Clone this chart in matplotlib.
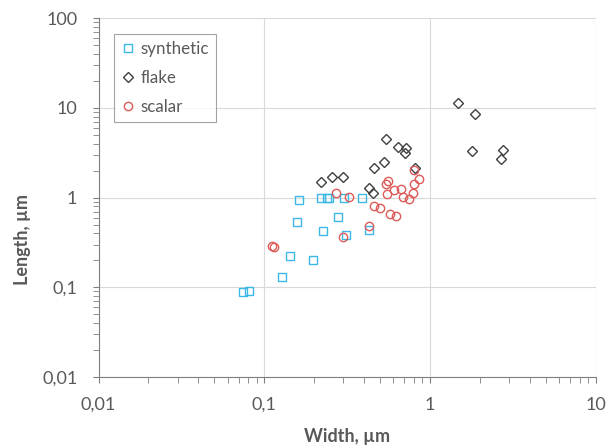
import numpy as np
import matplotlib
matplotlib.use('Agg')
import matplotlib.pyplot as plt
from matplotlib.ticker import FuncFormatter, LogLocator, NullFormatter

plt.rcParams['font.family'] = ['Lato', 'DejaVu Sans']

# data (width, length in um)
synthetic_w = [0.074, 0.081, 0.128, 0.143, 0.158, 0.163, 0.198, 0.22, 0.227, 0.24,
               0.247, 0.277, 0.304, 0.31, 0.39, 0.43]
synthetic_l = [0.089, 0.092, 0.13, 0.224, 0.53, 0.94, 0.20, 1.0, 0.43, 0.98,
               0.98, 0.61, 0.98, 0.38, 0.98, 0.44]

flake_w = [0.22, 0.256, 0.30, 0.43, 0.455, 0.46, 0.53, 0.54, 0.64, 0.72, 0.71,
           0.81, 1.47, 1.87, 1.79, 2.76, 2.67]
flake_l = [1.5, 1.69, 1.68, 1.29, 1.14, 2.16, 2.48, 4.48, 3.7, 3.55, 3.13,
           2.16, 11.3, 8.5, 3.34, 3.4, 2.7]

scalar_w = [0.111, 0.115, 0.27, 0.324, 0.297, 0.43, 0.46, 0.50, 0.55, 0.54, 0.555,
            0.57, 0.61, 0.62, 0.67, 0.69, 0.75, 0.79, 0.80, 0.80, 0.855]
scalar_l = [0.29, 0.28, 1.14, 1.01, 0.365, 0.48, 0.81, 0.77, 1.10, 1.42, 1.53,
            0.65, 1.22, 0.625, 1.24, 1.01, 0.96, 1.14, 1.42, 2.04, 1.60]

grey = '#595959'

fig = plt.figure(figsize=(6.14, 4.48), dpi=100)
ax = fig.add_axes([0.1606, 0.1585, 0.8096, 0.8007])

ax.plot(synthetic_w, synthetic_l, 's', ms=5.6, mfc='none', mec='#3cb8e6', mew=1.0,
        label='synthetic', zorder=3)
ax.plot(flake_w, flake_l, 'D', ms=5.2, mfc='none', mec='#404040', mew=1.0,
        label='flake', zorder=3)
ax.plot(scalar_w, scalar_l, 'o', ms=6.0, mfc='none', mec='#dc5a58', mew=1.0,
        label='scalar', zorder=3)

ax.set_xscale('log')
ax.set_yscale('log')
ax.set_xlim(0.01, 10)
ax.set_ylim(0.01, 100)

def comma_fmt(v, pos):
    return ('%g' % v).replace('.', ',')

ax.xaxis.set_major_formatter(FuncFormatter(comma_fmt))
ax.yaxis.set_major_formatter(FuncFormatter(comma_fmt))
ax.xaxis.set_minor_locator(LogLocator(base=10, subs=np.arange(2, 10)))
ax.yaxis.set_minor_locator(LogLocator(base=10, subs=np.arange(2, 10)))
ax.xaxis.set_minor_formatter(NullFormatter())
ax.yaxis.set_minor_formatter(NullFormatter())

ax.grid(True, which='major', color='#d9d9d9', lw=0.8)
ax.set_axisbelow(True)
for side in ['top', 'right']:
    ax.spines[side].set_visible(False)
for side in ['left', 'bottom']:
    ax.spines[side].set_color('#7f7f7f')
    ax.spines[side].set_linewidth(0.8)

ax.tick_params(which='major', length=4.3, color='#7f7f7f', labelsize=13,
               labelcolor=grey)
ax.tick_params(axis='x', which='major', pad=10)
ax.tick_params(axis='y', which='major', pad=11)
ax.tick_params(which='minor', length=4.3, color='#7f7f7f')

ax.set_xlabel('Width, \u00b5m', fontsize=13, fontweight='bold', color=grey, va='center')
ax.set_ylabel('Length, \u00b5m', fontsize=13, fontweight='bold', color=grey, va='center')
ax.xaxis.set_label_coords(0.5, -0.167)
ax.yaxis.set_label_coords(-0.154, 0.382)

leg = ax.legend(loc='upper left', bbox_to_anchor=(0.031, 0.955), fontsize=12.2,
                frameon=True, fancybox=False, handletextpad=0.35,
                handlelength=0.8, labelspacing=0.76, borderpad=0.4,
                borderaxespad=0, labelcolor=grey)
leg.get_frame().set_edgecolor('#8c8c8c')
leg.get_frame().set_linewidth(0.8)

fig.savefig('out.png', dpi=100)
